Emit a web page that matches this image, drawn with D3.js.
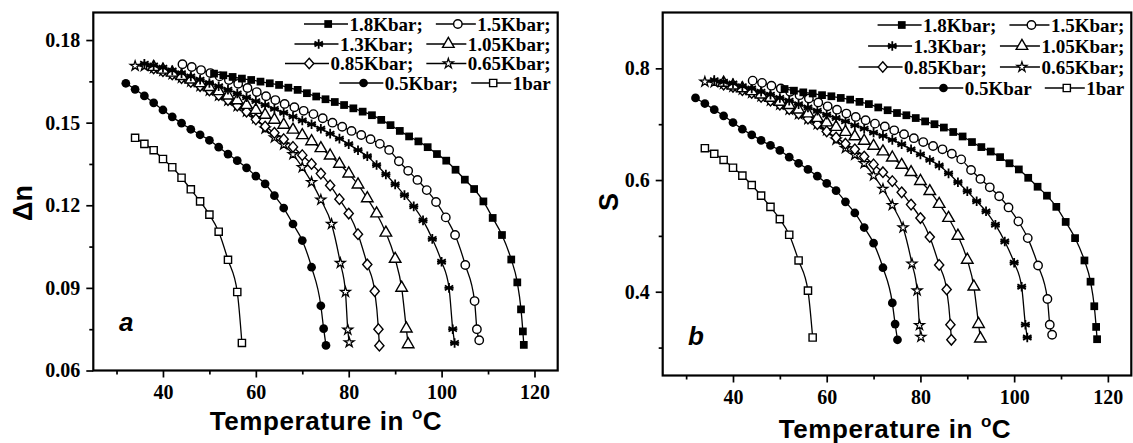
<!DOCTYPE html>
<html>
<head>
<meta charset="utf-8">
<script src="https://cdnjs.cloudflare.com/ajax/libs/d3/7.8.5/d3.min.js"></script>
<style>
body { margin: 0; background: #fff; }
svg { display: block; background: #fff; }
.axis path.domain { display: none; }
.axis line { stroke: #000; stroke-width: 1.7; }
.axis text { font-family: 'Liberation Serif', 'Times New Roman', serif; font-weight: bold; font-size: 20px; fill: #000; }
.frame { fill: none; stroke: #000; stroke-width: 2.2; }
.title { font-family: 'Liberation Sans', Arial, sans-serif; font-weight: bold; fill: #000; }
.legtext { font-family: 'Liberation Serif', 'Times New Roman', serif; font-weight: bold; font-size: 19px; fill: #000; }
.curve { fill: none; stroke: #000; stroke-width: 1.3; }
</style>
</head>
<body>
<svg width="1133" height="443"></svg>
<script>
// temperatures (deg C), one array per pressure
var t18 = [51,53,55,57,59,61,63,65,67,69,71,73,75,77,79,81,83,85,87,89,91,93,95,97,99,101,103,105,107,109,111,113,115,116.3,117.1,117.5,117.7];
var t15 = [44.2,46.2,48.2,50.2,52.2,54.2,56.2,58.2,60.2,62.2,64.2,66.2,68.3,70.3,72.4,74.4,76.5,78.6,80.6,82.7,84.7,86.7,88.7,90.8,92.8,94.8,96.8,98.8,100.9,102.9,105.1,107.1,107.6,108.1];
var t13 = [36,38,40,42,44,46,48,50,52,54,56,58,60,62,64,66,68,70,72,74,76,78,80,82,84,86,88,90,92,94,96,98,100,101.6,102.4,102.8];
var t105 = [38,40,42,44,46,48,50,52,54,56,58,60,62,64,66,68,70,72,74,76,78,80,82,84,86,88,90,91.4,92.4,92.8];
var t085 = [38,40,42,44,46,48,50,52,54,56,58,60,62,64,66,68,70,72,74,76,78,80,82,84,85.6,86.4,86.6];
var t065 = [34,36,38,40,42,44,46,48,50,52,54,56,58,60,62,64,66,68,70,72,74,76.3,78.2,79.3,79.8,80.1];
var t05 = [32,34,36,38,40,42,44,46,48,50,52,54,56,58,60,62,64,66,68,70,72,74,74.6,75.1];
var t1b = [34,36,38,40,42,44,46,48,50,52,54,56,57];

// birefringence (panel a)
var n18 = [0.1678,0.1672,0.1666,0.1660,0.1655,0.1649,0.1643,0.1637,0.1627,0.1619,0.1607,0.1595,0.1585,0.1575,0.1564,0.1552,0.1540,0.1527,0.1510,0.1491,0.1470,0.1450,0.1432,0.1411,0.1386,0.1362,0.1329,0.1293,0.1259,0.1214,0.1154,0.1092,0.1003,0.0920,0.0822,0.0742,0.0693];
var n15 = [0.1712,0.1702,0.1691,0.1680,0.1668,0.1655,0.1641,0.1626,0.1611,0.1596,0.1582,0.1568,0.1556,0.1543,0.1531,0.1516,0.1500,0.1485,0.1470,0.1455,0.1440,0.1423,0.1401,0.1360,0.1325,0.1292,0.1255,0.1212,0.1156,0.1092,0.0983,0.0852,0.0750,0.0710];
var n13 = [0.1714,0.1708,0.1700,0.1690,0.1680,0.1668,0.1656,0.1644,0.1632,0.1620,0.1606,0.1592,0.1578,0.1564,0.1550,0.1536,0.1522,0.1508,0.1494,0.1478,0.1460,0.1442,0.1422,0.1400,0.1378,0.1346,0.1312,0.1276,0.1237,0.1196,0.1145,0.1078,0.0995,0.0900,0.0750,0.0700];
var n105 = [0.1702,0.1692,0.1681,0.1669,0.1656,0.1643,0.1629,0.1614,0.1598,0.1581,0.1564,0.1546,0.1528,0.1510,0.1492,0.1474,0.1454,0.1432,0.1407,0.1380,0.1350,0.1315,0.1275,0.1225,0.1170,0.1100,0.1005,0.0900,0.0752,0.0695];
var n085 = [0.1697,0.1687,0.1675,0.1662,0.1648,0.1633,0.1617,0.1600,0.1582,0.1562,0.1540,0.1512,0.1486,0.1463,0.1440,0.1412,0.1382,0.1350,0.1315,0.1272,0.1222,0.1170,0.1095,0.0985,0.0888,0.0750,0.0690];
var n065 = [0.1706,0.1705,0.1698,0.1688,0.1676,0.1663,0.1649,0.1633,0.1616,0.1598,0.1580,0.1560,0.1540,0.1516,0.1478,0.1446,0.1420,0.1385,0.1338,0.1284,0.1220,0.1132,0.0990,0.0885,0.0748,0.0702];
var n05 = [0.1643,0.1621,0.1597,0.1572,0.1546,0.1521,0.1498,0.1476,0.1456,0.1436,0.1411,0.1386,0.1362,0.1336,0.1306,0.1278,0.1235,0.1190,0.1132,0.1072,0.0975,0.0835,0.0752,0.0691];
var n1b = [0.1445,0.1423,0.1400,0.1368,0.1338,0.1300,0.1258,0.1214,0.1166,0.1104,0.1002,0.0885,0.0700];

// order parameter (panel b)
var s18 = [0.763,0.760,0.757,0.755,0.752,0.750,0.747,0.744,0.740,0.736,0.730,0.725,0.720,0.716,0.711,0.705,0.700,0.694,0.686,0.678,0.668,0.659,0.651,0.641,0.630,0.619,0.604,0.588,0.572,0.552,0.525,0.496,0.456,0.418,0.374,0.337,0.315];
var s15 = [0.778,0.774,0.769,0.764,0.758,0.752,0.746,0.739,0.732,0.726,0.719,0.713,0.707,0.701,0.696,0.689,0.682,0.675,0.668,0.661,0.655,0.647,0.637,0.618,0.602,0.587,0.571,0.551,0.526,0.496,0.447,0.387,0.341,0.323];
var s13 = [0.779,0.776,0.773,0.768,0.764,0.758,0.753,0.747,0.742,0.736,0.730,0.724,0.717,0.711,0.705,0.698,0.692,0.685,0.679,0.672,0.664,0.655,0.646,0.636,0.626,0.612,0.596,0.580,0.562,0.544,0.520,0.490,0.452,0.409,0.341,0.318];
var s105 = [0.774,0.769,0.764,0.759,0.753,0.747,0.740,0.734,0.726,0.719,0.711,0.703,0.695,0.686,0.678,0.670,0.661,0.651,0.640,0.627,0.614,0.598,0.580,0.557,0.532,0.500,0.457,0.409,0.342,0.316];
var s085 = [0.771,0.767,0.761,0.756,0.749,0.742,0.735,0.727,0.719,0.710,0.700,0.687,0.676,0.665,0.655,0.642,0.628,0.614,0.598,0.578,0.556,0.532,0.498,0.448,0.404,0.341,0.314];
var s065 = [0.776,0.775,0.772,0.767,0.762,0.756,0.750,0.742,0.735,0.726,0.718,0.709,0.700,0.689,0.672,0.657,0.645,0.630,0.608,0.584,0.555,0.515,0.450,0.402,0.340,0.319];
var s05 = [0.747,0.737,0.726,0.715,0.703,0.691,0.681,0.671,0.662,0.653,0.641,0.630,0.619,0.607,0.594,0.581,0.561,0.541,0.515,0.487,0.443,0.380,0.342,0.314];
var s1b = [0.657,0.647,0.636,0.622,0.608,0.591,0.572,0.552,0.530,0.502,0.456,0.402,0.318];

var namesA = ['1.8Kbar;', '1.5Kbar;', '1.3Kbar;', '1.05Kbar;', '0.85Kbar;', '0.65Kbar;', '0.5Kbar;', '1bar'];
var namesB = ['1.8Kbar;', '1.5Kbar;', '1.3Kbar;', '1.05Kbar;', '0.85Kbar;', '0.65Kbar;', '0.5Kbar', '1bar'];
var markerTypes = ['square', 'circle', 'asterisk', 'triangle', 'diamond', 'star', 'dot', 'osquare'];

var xTicks = [40, 60, 80, 100, 120];
var xMinor = [30, 50, 70, 90, 110];
var yTicksA = [0.06, 0.09, 0.12, 0.15, 0.18];
var yMinorA = [0.075, 0.105, 0.135, 0.165];
var yTicksB = [0.4, 0.6, 0.8];
var yMinorB = [0.3, 0.5, 0.7];

var temps = [t18, t15, t13, t105, t085, t065, t05, t1b];

var svg = d3.select('svg');

// marker shapes, drawn around (0,0)
var sym = {
    square:   {d: d3.symbol(d3.symbolSquare, 60)(), fill: '#000', sw: 0},
    circle:   {d: d3.symbol(d3.symbolCircle, 56)(), fill: '#fff', sw: 1.4},
    asterisk: {d: 'M0,-4.8V4.8M-4.2,-2.4L4.2,2.4M-4.2,2.4L4.2,-2.4M-4.6,0H4.6', fill: 'none', sw: 1.8},
    triangle: {d: d3.symbol(d3.symbolTriangle, 58)(), fill: '#fff', sw: 1.4},
    diamond:  {d: 'M0,-5.3L4.6,0L0,5.3L-4.6,0Z', fill: '#fff', sw: 1.4},
    star:     {d: d3.symbol(d3.symbolStar, 30)(), fill: '#fff', sw: 1.3},
    dot:      {d: d3.symbol(d3.symbolCircle, 60)(), fill: '#000', sw: 0},
    osquare:  {d: d3.symbol(d3.symbolSquare, 52)(), fill: '#fff', sw: 1.4}
};

function drawMarker(g, type, px, py) {
    var s = sym[type];
    g.append('path')
        .attr('d', s.d)
        .attr('transform', 'translate(' + [px, py] + ')')
        .attr('fill', s.fill)
        .attr('stroke', '#000')
        .attr('stroke-width', s.sw);
}

var panels = [
    {x0: 93.3, x1: 557.7, y0: 370.5, y1: 12.5, yDomain: [0.06, 0.19], yTicks: yTicksA, yMinor: yMinorA, yFmt: '.2f',
     vals: [n18, n15, n13, n105, n085, n065, n05, n1b], names: namesA,
     yTitle: '\u0394n', yTitleX: 31.5, yTitleY: 203, letter: 'a', letterX: 119, letterY: 331,
     titleX: 326, titleY: 430, rowY: [24, 44, 63.5, 83]},
    {x0: 662.7, x1: 1131.3, y0: 375.5, y1: 12.5, yDomain: [0.25, 0.9], yTicks: yTicksB, yMinor: yMinorB, yFmt: '.1f',
     vals: [s18, s15, s13, s105, s085, s065, s05, s1b], names: namesB,
     yTitle: 'S', yTitleX: 618, yTitleY: 202, letter: 'b', letterX: 688, letterY: 345,
     titleX: 895, titleY: 438, rowY: [25, 46, 67, 88]}
];

panels.forEach(function(p) {
    var x = d3.scaleLinear().domain([25, 125]).range([p.x0, p.x1]);
    var y = d3.scaleLinear().domain(p.yDomain).range([p.y0, p.y1]);
    var g = svg.append('g');

    // axes: minor ticks first, then labelled ones
    g.append('g').attr('class', 'axis')
        .attr('transform', 'translate(0,' + p.y0 + ')')
        .call(d3.axisBottom(x).tickValues(xMinor).tickSize(4).tickFormat(''));
    g.append('g').attr('class', 'axis')
        .attr('transform', 'translate(0,' + p.y0 + ')')
        .call(d3.axisBottom(x).tickValues(xTicks).tickSize(7).tickPadding(7).tickFormat(d3.format('d')));
    g.append('g').attr('class', 'axis')
        .attr('transform', 'translate(' + p.x0 + ',0)')
        .call(d3.axisLeft(y).tickValues(p.yMinor).tickSize(4).tickFormat(''));
    g.append('g').attr('class', 'axis')
        .attr('transform', 'translate(' + p.x0 + ',0)')
        .call(d3.axisLeft(y).tickValues(p.yTicks).tickSize(7).tickPadding(6).tickFormat(d3.format(p.yFmt)));

    g.append('rect').attr('class', 'frame')
        .attr('x', p.x0).attr('y', p.y1)
        .attr('width', p.x1 - p.x0).attr('height', p.y0 - p.y1);

    // curves + symbols
    var line = d3.line()
        .x(function(d) { return x(d[0]); })
        .y(function(d) { return y(d[1]); })
        .curve(d3.curveMonotoneX);

    for (var i = p.vals.length - 1; i >= 0; i--) {
        var pts = temps[i].map(function(t, j) { return [t, p.vals[i][j]]; });
        g.append('path').attr('class', 'curve').attr('d', line(pts));
        var mg = g.append('g');
        pts.forEach(function(d) { drawMarker(mg, markerTypes[i], x(d[0]), y(d[1])); });
    }

    // legend, two entries per row, right aligned to the frame
    var lg = g.append('g');
    [[0, 1], [2, 3], [4, 5], [6, 7]].forEach(function(pair, r) {
        var yy = p.rowY[r];
        var xEnd = p.x1 - 7;
        for (var k = 1; k >= 0; k--) {
            var i = pair[k];
            var txt = lg.append('text').attr('class', 'legtext')
                .attr('x', xEnd).attr('y', yy + 6.5)
                .attr('text-anchor', 'end')
                .text(p.names[i]);
            var w = txt.node().getComputedTextLength();
            var L = k == 1 ? 40 : 44;
            var lx1 = xEnd - w - 1.5, lx0 = lx1 - L;
            lg.append('line')
                .attr('x1', lx0).attr('x2', lx1).attr('y1', yy).attr('y2', yy)
                .attr('stroke', '#000').attr('stroke-width', 1.3);
            drawMarker(lg, markerTypes[i], lx0 + L * 0.55, yy);
            xEnd = lx0 - 13;
        }
    });

    // titles
    var xt = g.append('text').attr('class', 'title')
        .attr('x', p.titleX).attr('y', p.titleY)
        .attr('text-anchor', 'middle')
        .style('font-size', '26px')
        .style('letter-spacing', '0.6px');
    xt.append('tspan').text('Temperature in ');
    xt.append('tspan').text('o').style('font-size', '17px').attr('dy', -11);
    xt.append('tspan').text('C').attr('dy', 11);

    g.append('text').attr('class', 'title')
        .attr('transform', 'translate(' + [p.yTitleX, p.yTitleY] + ')rotate(-90)')
        .attr('text-anchor', 'middle')
        .style('font-size', '27px')
        .text(p.yTitle);

    g.append('text').attr('class', 'title')
        .attr('x', p.letterX).attr('y', p.letterY)
        .style('font-size', '26px')
        .style('font-style', 'italic')
        .text(p.letter);
});
</script>
</body>
</html>
